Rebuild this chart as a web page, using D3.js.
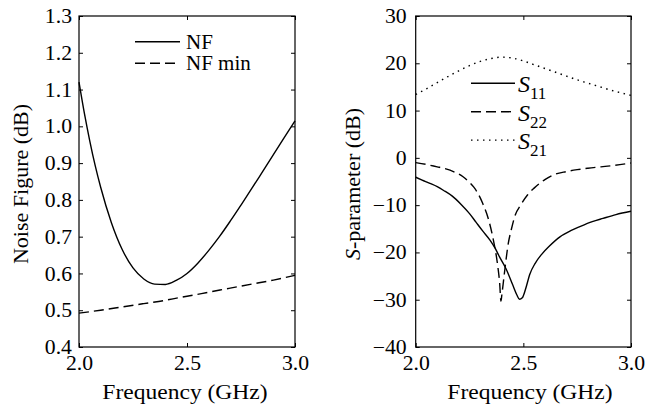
<!DOCTYPE html>
<html lang="en">

<head>
    <meta charset="UTF-8">
    <script src="https://d3js.org/d3.v7.min.js"></script>
    <title>Noise figure and S-parameters</title>
    <style>
        body { margin: 0; background: #fff; }
        svg text { font-family: "Liberation Serif", "Times New Roman", serif; fill: #000; }
        .domain { display: none; }
        .tick line { stroke: #000; stroke-width: 1px; }
        .tick text { font-size: 20.5px; transform-box: fill-box; }
        .title { font-size: 22px; transform-box: fill-box; transform-origin: center; }
        .frame { fill: none; stroke: #000; stroke-width: 1.2px; }
        .curve { fill: none; stroke: #000; stroke-width: 1.4px; }
        .dash { stroke-dasharray: 10, 5; }
        .dot { stroke-dasharray: 1.5, 4.5; }
    </style>
</head>

<body>
    <div id="container"></div>
    <script>

        // Datos
        var xTicks = [2.0, 2.5, 3.0];
        var nfTicks = [0.4, 0.5, 0.6, 0.7, 0.8, 0.9, 1.0, 1.1, 1.2, 1.3];
        var sTicks = [-40, -30, -20, -10, 0, 10, 20, 30];

        var freqNF = [2.00, 2.025, 2.05, 2.075, 2.10, 2.15, 2.20, 2.25, 2.30, 2.35, 2.40, 2.45, 2.50,
            2.55, 2.60, 2.65, 2.70, 2.75, 2.80, 2.85, 2.90, 2.95, 3.00];
        var nf = [1.12, 1.035, 0.960, 0.893, 0.835, 0.738, 0.665, 0.615, 0.585, 0.571, 0.570, 0.581, 0.600,
            0.628, 0.662, 0.700, 0.742, 0.786, 0.831, 0.877, 0.923, 0.969, 1.015];

        var freqNFmin = [2.0, 2.1, 2.2, 2.3, 2.4, 2.47, 2.5, 2.6, 2.7, 2.8, 2.9, 3.0];
        var nfMin = [0.492, 0.500, 0.509, 0.518, 0.527, 0.535, 0.538, 0.549, 0.560, 0.571, 0.582, 0.595];

        var freqS11 = [2.00, 2.03, 2.066, 2.10, 2.13, 2.17, 2.21, 2.25, 2.28, 2.31, 2.345, 2.37, 2.39,
            2.42, 2.45, 2.47, 2.482, 2.495, 2.51, 2.53, 2.555, 2.585, 2.62, 2.67, 2.72, 2.76, 2.82,
            2.87, 2.93, 3.00];
        var s11 = [-4.1, -4.7, -5.4, -6.1, -6.9, -8.1, -9.8, -11.8, -13.6, -15.4, -17.4, -19.2, -21.0,
            -23.5, -26.8, -29.0, -29.9, -29.6, -27.8, -24.6, -22.3, -20.4, -18.7, -16.7, -15.4, -14.6,
            -13.5, -12.8, -12.0, -11.3];

        var freqS22 = [2.00, 2.05, 2.10, 2.13, 2.18, 2.22, 2.25, 2.27, 2.29, 2.31, 2.34, 2.36, 2.38,
            2.39, 2.396, 2.40, 2.412, 2.43, 2.445, 2.46, 2.49, 2.52, 2.55, 2.60, 2.64, 2.70, 2.75,
            2.80, 2.86, 2.92, 3.00];
        var s22 = [-1.0, -1.4, -1.9, -2.2, -3.0, -4.0, -5.2, -6.2, -7.6, -9.5, -13.3, -17.2, -22.5,
            -26.5, -30.3, -29.0, -24.4, -18.1, -15.0, -12.4, -9.8, -7.8, -6.4, -4.6, -3.6, -2.9, -2.5,
            -2.2, -1.9, -1.6, -1.1];

        var freqS21 = [2.00, 2.05, 2.10, 2.15, 2.20, 2.25, 2.30, 2.35, 2.40, 2.45, 2.50, 2.55, 2.60,
            2.65, 2.70, 2.75, 2.80, 2.85, 2.90, 2.95, 3.00];
        var s21 = [13.4, 14.6, 15.9, 17.2, 18.4, 19.5, 20.4, 21.0, 21.3, 21.1, 20.5, 19.7, 18.9,
            18.1, 17.3, 16.5, 15.8, 15.1, 14.4, 13.8, 13.2];

        var W = 648, H = 409;
        var plotTop = 16, plotBottom = 347;

        var svg = d3.select("#container").append("svg")
            .attr("width", W)
            .attr("height", H);

        // Convierte dos arreglos en puntos
        function zip(xs, ys) {
            return xs.map(function (d, i) { return { x: d, y: ys[i] }; });
        }

        // Dibuja un panel con marco y ticks hacia adentro
        function panel(left, right, yDomain, yTickValues, yFormat, labelGap) {
            var x = d3.scaleLinear().domain([2, 3]).range([left, right]);
            var y = d3.scaleLinear().domain(yDomain).range([plotBottom, plotTop]);
            var g = svg.append("g");

            g.append("g")
                .attr("transform", "translate(0," + plotBottom + ")")
                .call(d3.axisBottom(x).tickValues(xTicks).tickSizeInner(-4).tickSizeOuter(0)
                    .tickPadding(8).tickFormat(d3.format(".1f")))
                .selectAll("text").attr("dy", "0.71em").style("transform", "scaleX(1.06)")
                .style("transform-origin", "center");
            g.append("g")
                .attr("transform", "translate(0," + plotTop + ")")
                .call(d3.axisTop(x).tickValues(xTicks).tickSizeInner(-4).tickSizeOuter(0).tickFormat(""));
            g.append("g")
                .attr("transform", "translate(" + left + ",0)")
                .call(d3.axisLeft(y).tickValues(yTickValues).tickSizeInner(-4).tickSizeOuter(0)
                    .tickPadding(labelGap).tickFormat(yFormat))
                .selectAll("text").style("transform", "scaleX(1.06)")
                .style("transform-origin", "right center");
            g.append("g")
                .attr("transform", "translate(" + right + ",0)")
                .call(d3.axisRight(y).tickValues(yTickValues).tickSizeInner(-4).tickSizeOuter(0).tickFormat(""));

            g.append("rect")
                .attr("class", "frame")
                .attr("x", left).attr("y", plotTop)
                .attr("width", right - left).attr("height", plotBottom - plotTop);

            return { g: g, x: x, y: y };
        }

        function drawCurve(p, pts, cls) {
            var line = d3.line()
                .curve(d3.curveMonotoneX)
                .x(function (d) { return p.x(d.x); })
                .y(function (d) { return p.y(d.y); });
            p.g.append("path")
                .datum(pts)
                .attr("class", "curve " + cls)
                .attr("d", line);
        }

        // Panel izquierdo: figura de ruido
        var p1 = panel(79, 295, [0.4, 1.3], nfTicks, d3.format(".1f"), 7);
        drawCurve(p1, zip(freqNF, nf), "");
        drawCurve(p1, zip(freqNFmin, nfMin), "dash");

        // Panel derecho: parametros S
        var p2 = panel(415.7, 631, [-40, 30], sTicks, d3.format("d"), 9);
        drawCurve(p2, zip(freqS11, s11), "");
        drawCurve(p2, zip(freqS22, s22), "dash");
        drawCurve(p2, zip(freqS21, s21), "dot");

        // Titulos de ejes
        svg.append("text")
            .attr("class", "title")
            .attr("x", 185).attr("y", 399)
            .attr("text-anchor", "middle")
            .style("transform", "scaleX(1.07)")
            .text("Frequency (GHz)");
        svg.append("text")
            .attr("class", "title")
            .attr("x", 530).attr("y", 399)
            .attr("text-anchor", "middle")
            .style("transform", "scaleX(1.07)")
            .text("Frequency (GHz)");
        svg.append("text")
            .attr("transform", "translate(28,184) rotate(-90)")
            .attr("text-anchor", "middle")
            .style("font-size", "22px")
            .text("Noise Figure (dB)");
        var yl = svg.append("text")
            .attr("transform", "translate(360,184) rotate(-90)")
            .attr("text-anchor", "middle")
            .style("font-size", "22px");
        yl.append("tspan").style("font-style", "italic").text("S");
        yl.append("tspan").text("-parameter  (dB)");

        // Leyenda izquierda
        var leg1 = [{ name: "NF", cls: "" }, { name: "NF min", cls: "dash" }];
        leg1.forEach(function (d, i) {
            var yy = 41.7 + i * 21.6;
            svg.append("line")
                .attr("class", "curve " + d.cls)
                .attr("x1", 135).attr("x2", 180)
                .attr("y1", yy).attr("y2", yy);
            svg.append("text")
                .attr("x", 186).attr("y", yy + 7)
                .style("font-size", "21px")
                .text(d.name);
        });

        // Leyenda derecha
        var leg2 = [{ sub: "11", cls: "" }, { sub: "22", cls: "dash" }, { sub: "21", cls: "dot" }];
        leg2.forEach(function (d, i) {
            var yy = 83.3 + i * 28.4;
            svg.append("line")
                .attr("class", "curve " + d.cls)
                .attr("x1", 471).attr("x2", 515)
                .attr("y1", yy).attr("y2", yy);
            var t = svg.append("text")
                .attr("x", 518).attr("y", yy + 9)
                .style("font-size", "24px");
            t.append("tspan").style("font-style", "italic").text("S");
            t.append("tspan").attr("dy", 7).style("font-size", "17px").text(d.sub);
        });
    </script>
</body>

</html>
